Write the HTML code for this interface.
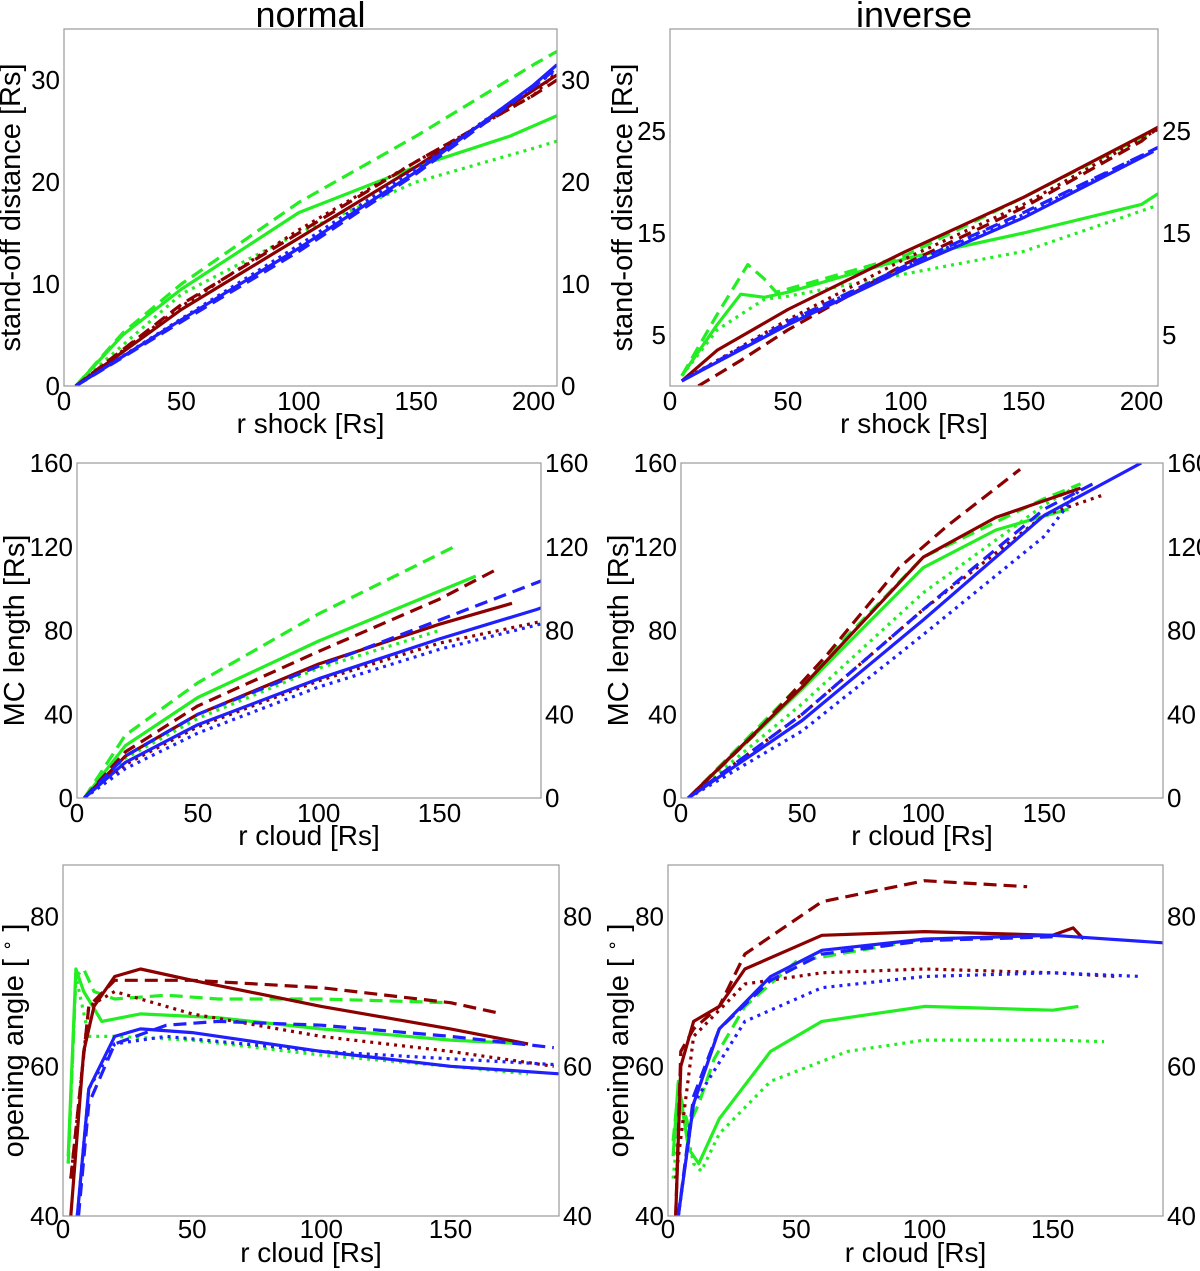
<!DOCTYPE html>
<html><head><meta charset="utf-8">
<style>
html,body{margin:0;padding:0;background:#fff;}
svg{display:block;font-family:"Liberation Sans","DejaVu Sans",sans-serif;}
</style></head>
<body>
<svg id="fig" width="1200" height="1271" viewBox="0 0 1200 1271" xmlns="http://www.w3.org/2000/svg"></svg>
<script>
// ---- Panel 1: normal, stand-off vs r shock
const p1_blue_solid=[[5,0],[50,6.5],[100,13.5],[150,21],[200,29.5],[210,31.5]];
const p1_blue_dashed=[[5,0],[50,6.3],[100,13.2],[150,20.8],[200,29.3],[210,31.2]];
const p1_blue_dotted=[[5,0],[50,6.6],[100,13.8],[150,21.3],[210,31]];
const p1_red_solid=[[5,0],[50,7.5],[100,14.5],[150,21.5],[200,29],[210,30.5]];
const p1_red_dashed=[[5,0],[50,8],[100,15],[150,22],[200,28.5],[210,30]];
const p1_red_dotted=[[5,0],[50,7.8],[100,15.3],[150,22],[200,28.5],[210,30.8]];
const p1_green_solid=[[5,0],[25,5],[50,9.5],[100,17],[150,21.5],[190,24.5],[210,26.5]];
const p1_green_dashed=[[5,0],[25,5.2],[50,10],[100,18],[150,24.5],[200,31.5],[210,32.8]];
const p1_green_dotted=[[5,0],[50,9],[100,15],[150,20],[200,23.3],[210,24]];
// ---- Panel 2: inverse, stand-off vs r shock
const p2_red_solid=[[5,0.5],[20,3.5],[50,7.5],[100,13.2],[150,18.5],[200,24.5],[208,25.5]];
const p2_red_dashed=[[12,0],[30,2.5],[50,5.5],[100,12],[150,17.5],[200,24],[208,25.5]];
const p2_red_dotted=[[5,0.5],[50,6.5],[100,12.5],[150,17.8],[208,25.3]];
const p2_blue_solid=[[5,0.5],[50,6],[100,11.5],[150,16.5],[205,23]];
const p2_blue_dashed=[[5,0.5],[50,6.3],[100,11.8],[150,17],[208,23.5]];
const p2_blue_dotted=[[5,0.5],[50,6.2],[100,11.8],[150,16.8],[208,23.5]];
const p2_green_solid=[[5,1],[20,6],[30,9],[40,8.7],[50,9.2],[100,12.5],[150,15],[200,17.8],[208,19]];
const p2_green_dashed=[[5,1],[20,7],[33,11.9],[40,10.5],[45,9.2],[50,9.5],[100,12.8],[150,18.5],[208,25.3]];
const p2_green_dotted=[[5,1],[20,5.5],[40,8.5],[50,8.8],[100,11],[150,13.2],[208,17.8]];
// ---- Panel 3: normal, MC length vs r cloud
const p3_green_dashed=[[3,0],[20,30],[50,55],[100,88],[156,120]];
const p3_green_solid=[[3,0],[20,25],[50,48],[100,75],[165,106]];
const p3_green_dotted=[[3,0],[20,19],[50,38],[100,62],[150,80]];
const p3_red_dashed=[[3,0],[20,22],[50,44],[100,70],[150,95],[175,110]];
const p3_red_solid=[[3,0],[20,20],[50,40],[100,64],[150,83],[180,93]];
const p3_red_dotted=[[3,0],[20,16],[50,34],[100,56],[150,74],[195,85]];
const p3_blue_dashed=[[3,0],[20,20],[50,40],[100,63],[150,85],[195,105]];
const p3_blue_solid=[[3,0],[20,17],[50,35],[100,57],[150,76],[190,90],[195,92]];
const p3_blue_dotted=[[3,0],[20,14],[50,31],[100,53],[150,71],[195,84]];
// ---- Panel 4: inverse, MC length vs r cloud
const p4_red_dashed=[[3,0],[30,30],[60,68],[90,110],[110,130],[140,157]];
const p4_red_solid=[[3,0],[50,53],[100,115],[130,134],[165,148]];
const p4_red_dotted=[[3,0],[50,40],[100,90],[150,135],[175,145]];
const p4_green_solid=[[3,0],[50,52],[100,110],[130,128],[160,138]];
const p4_green_dashed=[[3,0],[50,55],[100,115],[150,143],[165,150]];
const p4_green_dotted=[[3,0],[50,45],[100,98],[150,140],[165,150]];
const p4_blue_solid=[[3,0],[50,37],[100,85],[150,135],[190,160]];
const p4_blue_dashed=[[3,0],[50,40],[100,90],[150,138],[170,150]];
const p4_blue_dotted=[[3,0],[50,32],[100,78],[150,125],[165,148]];
// ---- Panel 5: normal, opening angle
const p5_red_solid=[[3,40],[8,62],[12,68],[20,72],[30,73],[50,71.5],[100,68],[150,65],[180,63]];
const p5_red_dashed=[[3,45],[10,68],[20,71.5],[50,71.5],[100,70.5],[150,68.5],[170,67]];
const p5_red_dotted=[[3,45],[10,68],[20,70],[30,69],[50,67],[100,64],[150,62],[190,60]];
const p5_green_dashed=[[2,47],[5,72],[8,73],[12,70],[20,69],[40,69.5],[60,69],[100,69],[150,68.5]];
const p5_green_solid=[[2,48],[5,73],[8,70],[15,66],[30,67],[60,66.5],[100,65],[150,63.5],[180,63]];
const p5_green_dotted=[[2,47],[5,72],[10,64],[20,64],[50,63.5],[100,61.5],[150,60],[180,59]];
const p5_blue_dashed=[[6,40],[10,55],[20,63],[40,65.5],[60,66],[100,65.5],[150,64],[190,62.5]];
const p5_blue_solid=[[5,38],[10,57],[20,64],[30,65],[50,64.5],[100,62],[150,60],[192,59]];
const p5_blue_dotted=[[5,38],[10,57],[20,63],[40,64],[100,62],[150,61],[192,60.2]];
// ---- Panel 6: inverse, opening angle
const p6_red_dashed=[[3,40],[5,62],[10,65],[20,68],[30,75],[60,82],[100,84.8],[140,84]];
const p6_red_solid=[[3,40],[5,60],[10,66],[20,68],[30,73],[60,77.5],[100,78],[150,77.5],[158,78.5],[162,77]];
const p6_red_dotted=[[3,45],[10,64],[30,71],[60,72.5],[100,73],[150,72.5],[175,72]];
const p6_green_dashed=[[2,50],[4,57],[8,52],[12,55],[18,61],[30,68],[50,74],[100,77],[150,77.5]];
const p6_green_solid=[[2,48],[4,58],[8,49],[12,47],[20,53],[40,62],[60,66],[100,68],[150,67.5],[160,68]];
const p6_green_dotted=[[2,45],[5,55],[10,47],[13,46],[20,51],[40,58],[70,62],[100,63.5],[150,63.5],[170,63.3]];
const p6_blue_solid=[[4,40],[10,55],[20,65],[40,72],[60,75.5],[100,77],[150,77.5],[193,76.5]];
const p6_blue_dotted=[[4,40],[10,55],[30,66],[60,70.5],[100,72],[150,72.5],[185,72]];
const p6_blue_dashed=[[4,40],[10,56],[20,65],[40,71.5],[60,75],[100,76.8],[150,77.3]];

const xt1=[0,50,100,150,200], xt2=[0,50,100,150];
const yt1=[0,10,20,30], yt2=[5,15,25], yt3=[0,40,80,120,160], yt5=[40,60,80];

const COLORS={green:'#22ee22',red:'#8b0000',blue:'#1f1fff'};
const DASH={solid:'',dashed:'13,7',dotted:'3,5'};

const panels=[
 {id:'p1',L:64,R:557,T:29,B:386,x0:0,x1:210,y0:0,y1:35,xt:xt1,yt:yt1,xl:'r shock [Rs]',yl:'stand-off distance [Rs]',title:'normal',yo:44,
  s:{green_solid:p1_green_solid,green_dashed:p1_green_dashed,green_dotted:p1_green_dotted,red_solid:p1_red_solid,red_dashed:p1_red_dashed,red_dotted:p1_red_dotted,blue_solid:p1_blue_solid,blue_dashed:p1_blue_dashed,blue_dotted:p1_blue_dotted}},
 {id:'p2',L:670,R:1158,T:29,B:386,x0:0,x1:207,y0:0,y1:35,xt:xt1,yt:yt2,xl:'r shock [Rs]',yl:'stand-off distance [Rs]',title:'inverse',yo:38,
  s:{green_solid:p2_green_solid,green_dashed:p2_green_dashed,green_dotted:p2_green_dotted,red_solid:p2_red_solid,red_dashed:p2_red_dashed,red_dotted:p2_red_dotted,blue_solid:p2_blue_solid,blue_dashed:p2_blue_dashed,blue_dotted:p2_blue_dotted}},
 {id:'p3',L:77,R:541,T:463,B:798,x0:0,x1:192,y0:0,y1:160,xt:xt2,yt:yt3,xl:'r cloud [Rs]',yl:'MC length [Rs]',yo:53,
  s:{green_solid:p3_green_solid,green_dashed:p3_green_dashed,green_dotted:p3_green_dotted,red_solid:p3_red_solid,red_dashed:p3_red_dashed,red_dotted:p3_red_dotted,blue_solid:p3_blue_solid,blue_dashed:p3_blue_dashed,blue_dotted:p3_blue_dotted}},
 {id:'p4',L:681,R:1163,T:463,B:798,x0:0,x1:199,y0:0,y1:160,xt:xt2,yt:yt3,xl:'r cloud [Rs]',yl:'MC length [Rs]',yo:53,
  s:{green_solid:p4_green_solid,green_dashed:p4_green_dashed,green_dotted:p4_green_dotted,red_solid:p4_red_solid,red_dashed:p4_red_dashed,red_dotted:p4_red_dotted,blue_solid:p4_blue_solid,blue_dashed:p4_blue_dashed,blue_dotted:p4_blue_dotted}},
 {id:'p5',L:63,R:559,T:865,B:1216,x0:0,x1:192,y0:40,y1:86.9,xt:xt2,yt:yt5,xl:'r cloud [Rs]',yl:'deg',yo:40,
  s:{green_solid:p5_green_solid,green_dashed:p5_green_dashed,green_dotted:p5_green_dotted,red_solid:p5_red_solid,red_dashed:p5_red_dashed,red_dotted:p5_red_dotted,blue_solid:p5_blue_solid,blue_dashed:p5_blue_dashed,blue_dotted:p5_blue_dotted}},
 {id:'p6',L:668,R:1163,T:865,B:1216,x0:0,x1:193,y0:40,y1:86.9,xt:xt2,yt:yt5,xl:'r cloud [Rs]',yl:'deg',yo:40,
  s:{green_solid:p6_green_solid,green_dashed:p6_green_dashed,green_dotted:p6_green_dotted,red_solid:p6_red_solid,red_dashed:p6_red_dashed,red_dotted:p6_red_dotted,blue_solid:p6_blue_solid,blue_dashed:p6_blue_dashed,blue_dotted:p6_blue_dotted}}
];

const NS='http://www.w3.org/2000/svg';
const svg=document.getElementById('fig');
function mk(tag,attrs,parent){const e=document.createElementNS(NS,tag);for(const k in attrs)e.setAttribute(k,attrs[k]);(parent||svg).appendChild(e);return e;}

panels.forEach(p=>{
  const g=mk('g',{});
  
  
  const bottomRow=p.B>1000;
  const sx=v=>p.L+(v-p.x0)/(p.x1-p.x0)*(p.R-p.L);
  const sy=v=>p.B-(v-p.y0)/(p.y1-p.y0)*(p.B-p.T);
  const cid='clip-'+p.id;
  const cp=mk('clipPath',{id:cid},g);
  mk('rect',{x:p.L,y:p.T,width:p.R-p.L,height:p.B-p.T},cp);
  const lines=mk('g',{'clip-path':'url(#'+cid+')'},g);
  
  
  for(const key in p.s){
    const [col,sty]=key.split('_');
    const d=p.s[key].map((pt,i)=>(i?'L':'M')+sx(pt[0]).toFixed(1)+','+sy(pt[1]).toFixed(1)).join(' ');
    const path=mk('path',{d:d,fill:'none',stroke:COLORS[col],'stroke-width':3.2,'stroke-dasharray':DASH[sty],'stroke-linejoin':'round'},lines);
    
    
  }
  const frame=mk('rect',{x:p.L,y:p.T,width:p.R-p.L,height:p.B-p.T,fill:'none',stroke:'#999','stroke-width':1.2},g);
  
  
  p.xt.forEach(v=>{
    const t=mk('text',{x:sx(v),y:p.B+(bottomRow?22:24),'font-size':26,'text-anchor':'middle',fill:'#000'},g);
    t.textContent=v;
    
    
  });
  p.yt.forEach(v=>{
    const t=mk('text',{x:p.L-4,y:sy(v)+9,'font-size':26,'text-anchor':'end',fill:'#000'},g);
    t.textContent=v;
    
    
    const t2=mk('text',{x:p.R+4,y:sy(v)+9,'font-size':26,'text-anchor':'start',fill:'#000'},g);
    t2.textContent=v;
    
    
  });
  const xl=mk('text',{x:(p.L+p.R)/2,y:p.B+(bottomRow?46:47),'font-size':28,'text-anchor':'middle',fill:'#000'},g);
  xl.textContent=p.xl;
  
  
  const yx=p.L-p.yo;
  const yl=mk('text',{x:yx,y:(p.T+p.B)/2,'font-size':29,'text-anchor':'middle',fill:'#000',transform:'rotate(-90 '+yx+' '+((p.T+p.B)/2)+')'},g);
  if(p.yl==='deg'){
    yl.appendChild(document.createTextNode('opening angle [ '));
    const sup=mk('tspan',{'font-size':18,dy:-10},yl);sup.textContent='∘';
    const rest=mk('tspan',{dy:10},yl);rest.textContent=' ]';
  } else yl.textContent=p.yl;
  
  
  if(p.title){
    const tt=mk('text',{x:(p.L+p.R)/2,y:27,'font-size':36,'text-anchor':'middle',fill:'#000'},g);
    tt.textContent=p.title;
    
    
  }
});
</script>
</body></html>
